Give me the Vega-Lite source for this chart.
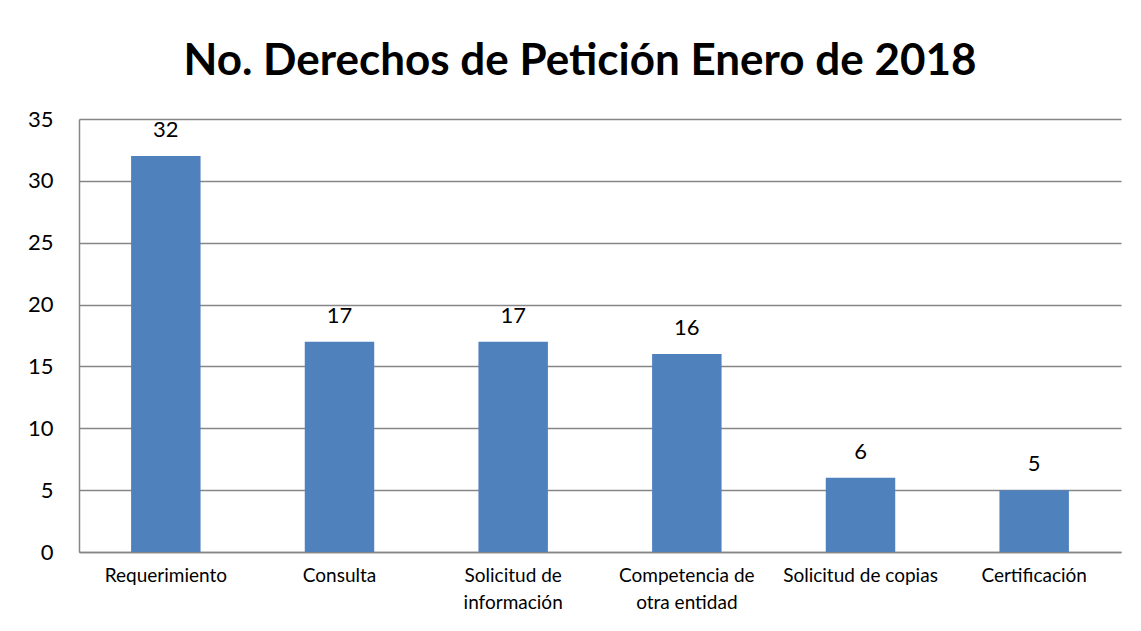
{
  "$schema": "https://vega.github.io/schema/vega-lite/v6.json",
  "width": 1042,
  "height": 433,
  "autosize": {"type": "none"},
  "padding": {"left": 79, "top": 119, "right": 20, "bottom": 79},
  "background": "white",
  "config": {
    "view": {"stroke": null},
    "font": "Lato"
  },
  "title": {
    "text": "No. Derechos de Petición Enero de 2018",
    "font": "Lato",
    "fontSize": 44,
    "fontWeight": "bold",
    "color": "#000000",
    "anchor": "middle",
    "dx": -20,
    "offset": 24
  },
  "data": {
    "values": [
      {"tipo": "Requerimiento", "n": 32},
      {"tipo": "Consulta", "n": 17},
      {"tipo": "Solicitud de|información", "n": 17},
      {"tipo": "Competencia de|otra entidad", "n": 16},
      {"tipo": "Solicitud de copias", "n": 6},
      {"tipo": "Certificación", "n": 5}
    ]
  },
  "encoding": {
    "x": {
      "field": "tipo",
      "type": "nominal",
      "sort": null,
      "scale": {"paddingInner": 0.6, "paddingOuter": 0.3},
      "axis": {
        "title": null,
        "labelAngle": 0,
        "labelExpr": "split(datum.label, '|')",
        "labelFont": "Lato",
        "labelFontSize": 19,
        "labelColor": "#000000",
        "labelLineHeight": 27,
        "labelPadding": 14,
        "labelBaseline": "top",
        "ticks": false,
        "domainColor": "#868686",
        "domainWidth": 1.5
      }
    },
    "y": {
      "field": "n",
      "type": "quantitative",
      "scale": {"domain": [0, 35]},
      "axis": {
        "title": null,
        "values": [0, 5, 10, 15, 20, 25, 30, 35],
        "labelFont": "Lato",
        "labelFontSize": 22,
        "labelColor": "#000000",
        "labelPadding": 26,
        "ticks": false,
        "grid": true,
        "gridColor": "#868686",
        "gridWidth": 1.5,
        "domainColor": "#868686",
        "domainWidth": 1.5
      }
    }
  },
  "layer": [
    {"mark": {"type": "bar", "color": "#4F81BD"}},
    {
      "mark": {"type": "text", "dy": -19, "baseline": "alphabetic", "fontSize": 22, "font": "Lato", "color": "#000000"},
      "encoding": {"text": {"field": "n", "type": "quantitative"}}
    }
  ]
}
